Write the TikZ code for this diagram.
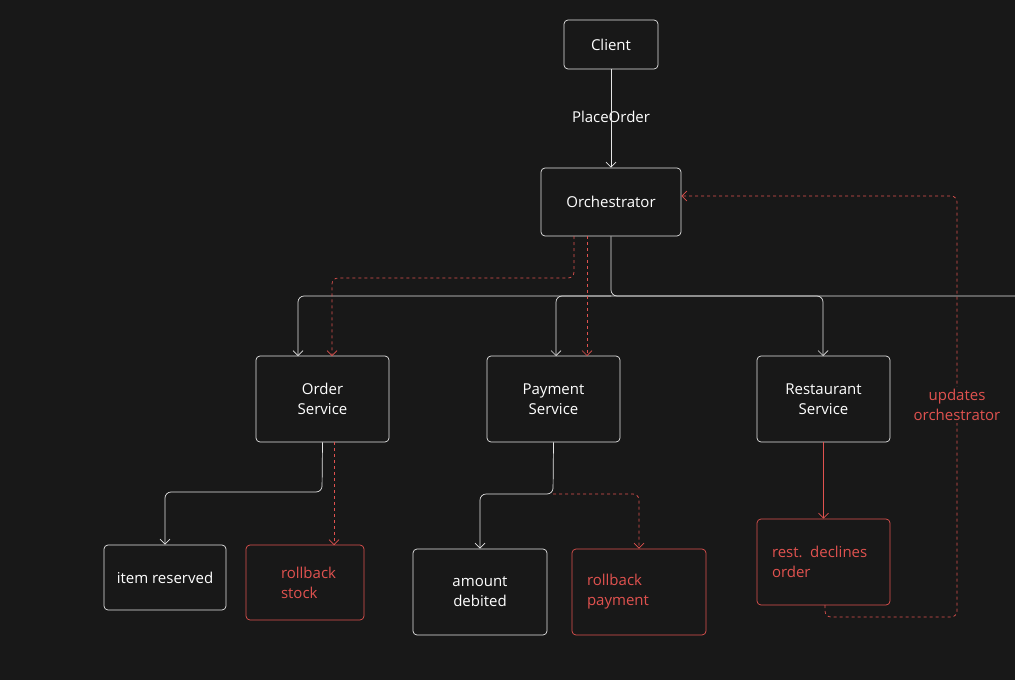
\documentclass[tikz,border=0pt]{standalone}
\usepackage{fontspec}
\setmainfont{Open Sans}
\usetikzlibrary{arrows.meta}
\definecolor{bg}{HTML}{181818}
\definecolor{rd}{HTML}{E0524F}
\begin{document}
\begin{tikzpicture}[x=1pt,y=-1pt,
  box/.style={draw=white!90!black,rounded corners=4pt,line width=0.7pt,text=white,font=\fontsize{15}{20}\selectfont,align=center,inner sep=0pt},
  rbox/.style={box,draw=rd,text=rd,align=left},
  w/.style={white!90!black,line width=0.7pt,rounded corners=6pt,-{Straight Barb[length=5pt]}},
  wl/.style={white!90!black,line width=0.7pt,rounded corners=6pt},
  r/.style={rd,line width=0.7pt,rounded corners=6pt,dashed,-{Straight Barb[length=5pt]}},
  rs/.style={rd,line width=0.7pt,-{Straight Barb[length=5pt]}}]
\fill[bg] (0,0) rectangle (1015,680);
\useasboundingbox (0,0) rectangle (1015,680);
\node[box,minimum width=94pt,minimum height=49pt] (client) at (611,44.5) {Client};
\node[box,minimum width=140pt,minimum height=68pt] (orch) at (611,202) {Orchestrator};
\node[box,minimum width=133pt,minimum height=86pt] (order) at (322.5,399) {Order\\Service};
\node[box,minimum width=133pt,minimum height=86pt] (pay) at (553.5,399) {Payment\\Service};
\node[box,minimum width=133pt,minimum height=86pt] (rest) at (823.5,399) {Restaurant\\Service};
\node[box,minimum width=122pt,minimum height=65pt] (item) at (165,577.5) {item reserved};
\node[rbox,minimum width=118pt,minimum height=75pt,text width=118pt,inner xsep=0pt] (rbs) at (305,582.5) {\hspace*{35pt}rollback\\\hspace*{35pt}stock};
\node[box,minimum width=134pt,minimum height=86pt] (amt) at (480,592) {amount\\debited};
\node[rbox,minimum width=134pt,minimum height=86pt,text width=134pt] (rbp) at (639,592) {\hspace*{15pt}rollback\\\hspace*{15pt}payment};
\node[rbox,minimum width=133pt,minimum height=86pt,text width=133pt] (decl) at (823.5,562) {\hspace*{15pt}rest. declines\\\hspace*{15pt}order};
\node[text=white,font=\fontsize{15}{20}\selectfont,fill=bg,inner sep=2pt] (po) at (611,117) {PlaceOrder};
\node[text=rd,font=\fontsize{15}{20}\selectfont,align=center,fill=bg,inner sep=2pt] (upd) at (957,405) {updates\\orchestrator};
\coordinate (edge) at (1015,296);
% client to orchestrator
\draw[w] (client.south) -- (orch.north);
% orchestrator fan-out
\draw[wl] (orch.south) -- (611,296) -- (edge);
\draw[w] (611,296) -- (298,296) -- (298,356);
\draw[w] (611,296) -- (556,296) -- (556,356);
\draw[w] (611,296) -- (823,296) -- (823,356);
% compensation dashed
\draw[r] (574,236) -- (574,278) -- (332,278) -- (332,356);
\draw[r,rounded corners=0pt] (587,236) -- (587,356);
% order service
\draw[w] (order.south) -- (322,492) -- (165,492) -- (item.north);
\draw[r,rounded corners=0pt] (334,442) -- (334,545);
% payment service
\draw[w] (pay.south) -- (553,494) -- (480,494) -- (amt.north);
\draw[r] (553,494) -- (639,494) -- (rbp.north);
% restaurant
\draw[rs] (rest.south) -- (decl.north);
\draw[r] (825,605) -- (825,617) -- (957,617) -- (957,196) -- (orch.east |- 0,196);
\node[text=rd,font=\fontsize{15}{20}\selectfont,align=center,fill=bg,inner sep=2pt] at (957,405) {updates\\orchestrator};
\end{tikzpicture}
\end{document}
